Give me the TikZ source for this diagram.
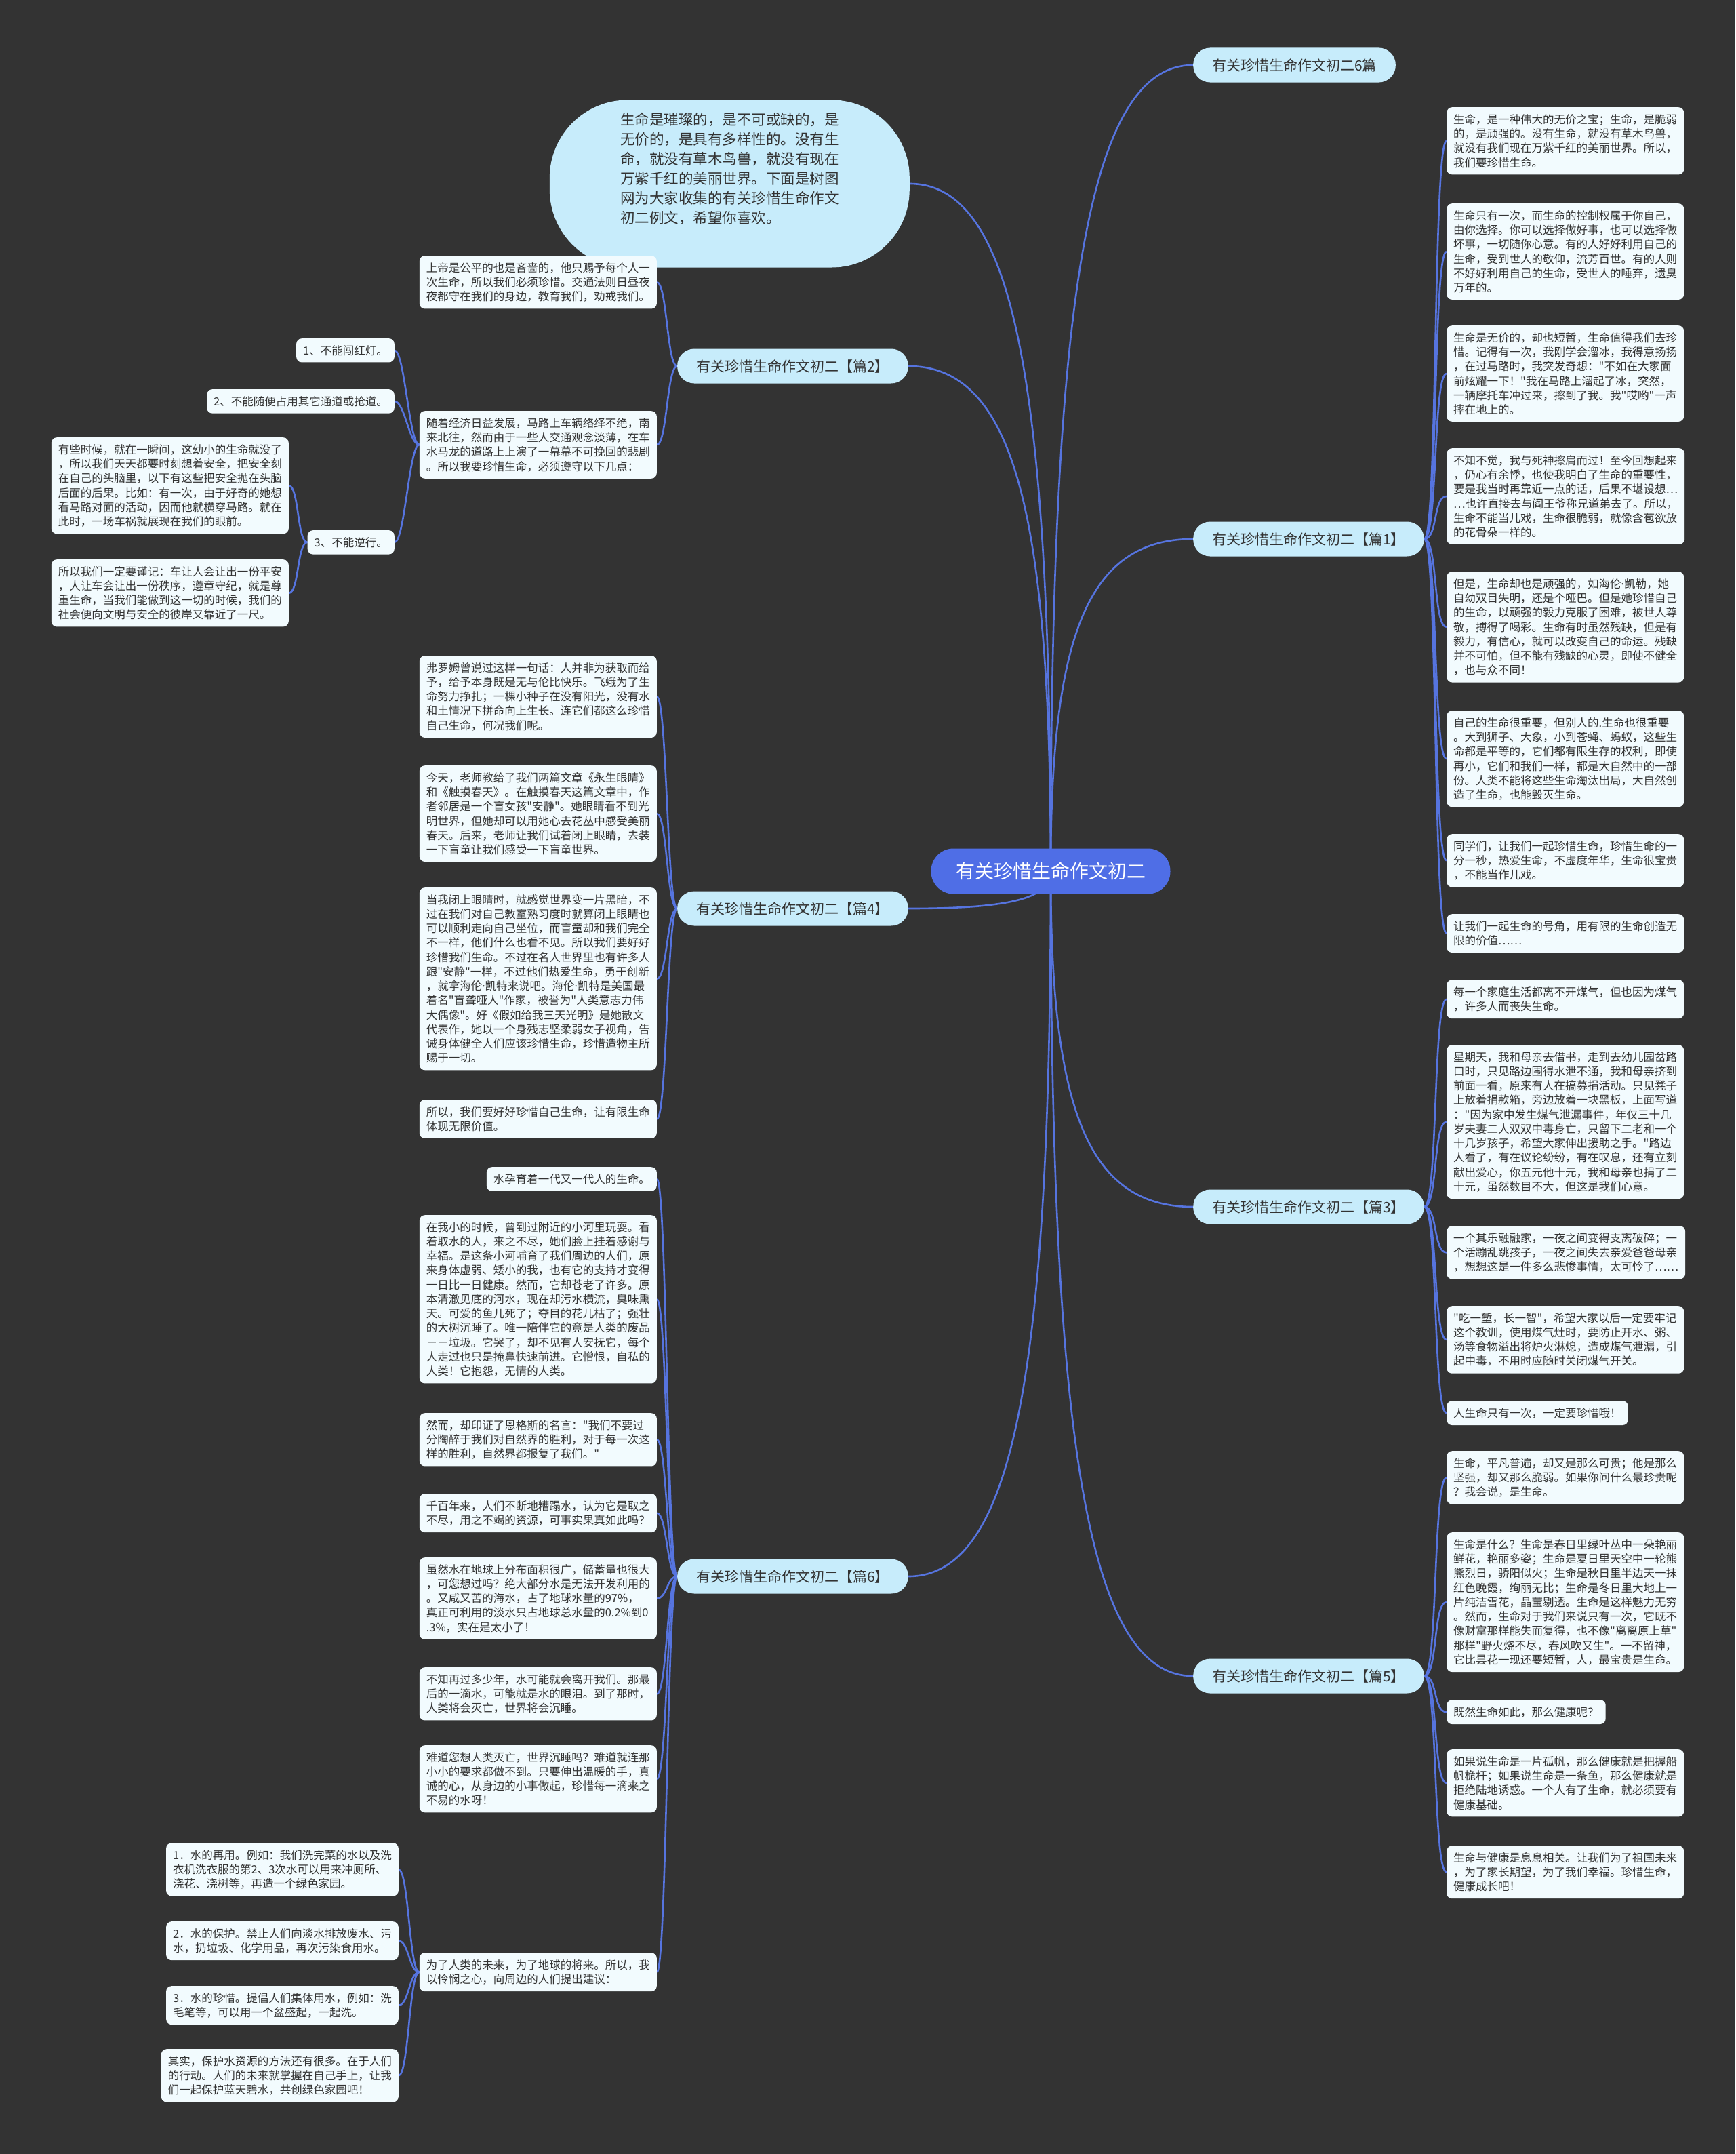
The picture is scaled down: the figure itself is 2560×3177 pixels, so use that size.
\documentclass[tikz,border=0pt]{standalone}
\usepackage{fontspec}
\setmainfont{Noto Sans CJK SC}[Ligatures=TeXOff]
\newfontfamily\latinf{Noto Sans}
\newcommand\md{{\latinf ·}}
\usetikzlibrary{calc}
\definecolor{bgc}{HTML}{333333}
\definecolor{leafc}{HTML}{F2FBFE}
\definecolor{brc}{HTML}{C7ECFB}
\definecolor{linec}{HTML}{5674DF}
\definecolor{centc}{HTML}{4F6EE6}
\definecolor{txtc}{HTML}{333333}
\newcommand\leaffont{\fontsize{16.5}{21.25}\selectfont}
\newcommand\brfont{\fontsize{21}{25}\selectfont}
\pgfdeclarelayer{bglayer}
\pgfdeclarelayer{links}
\pgfsetlayers{bglayer,links,main}
\tikzset{
  leaf/.style={fill=leafc, rounded corners=8pt, inner xsep=10pt, inner ysep=10pt, align=left, font=\leaffont, text=txtc},
  branch/.style={fill=brc, rounded corners=25pt, minimum height=51pt, inner xsep=28pt, font=\brfont, text=txtc},
  link/.style={draw=linec, line width=2.6pt},
}
\newcommand\rootlink[2]{\draw[link] (#1.center) .. controls ($(#1.center)!0.7!(#1.center|-#2)$) and ($(#2)!0.75!(#1.center|-#2)$) .. (#2);}
\newcommand\rlink[2]{\draw[link] (#1.east) .. controls +(20pt,0pt) and +(-20pt,0pt) .. (#2.west);}
\newcommand\llink[2]{\draw[link] (#1.west) .. controls +(-15pt,0pt) and +(15pt,0pt) .. (#2.east);}
\begin{document}
\begin{tikzpicture}[x=1pt,y=-1pt]
\begin{pgfonlayer}{bglayer}
\fill[bgc] (0,0) rectangle (2560,3177);
\end{pgfonlayer}
\useasboundingbox (0,0) rectangle (2560,3177);

% center
\node[fill=centc, text=white, rounded corners=33pt, minimum width=353pt, minimum height=67pt, font=\fontsize{28}{34}\selectfont] (C) at (1550,1285) {有关珍惜生命作文初二};

% intro
\node[fill=brc, rounded corners=115pt, minimum width=531pt, minimum height=247pt, align=left, font=\fontsize{21.5}{29}\selectfont, text=txtc, text depth=46pt, anchor=east] (I) at (1342,271) {生命是璀璨的，是不可或缺的，是\\无价的，是具有多样性的。没有生\\命，就没有草木鸟兽，就没有现在\\万紫千红的美丽世界。下面是树图\\网为大家收集的有关珍惜生命作文\\初二例文，希望你喜欢。};

% branches
\node[branch, anchor=west] (B0) at (1760,96) {有关珍惜生命作文初二6篇};
\node[branch, anchor=west] (B1) at (1760,795) {有关珍惜生命作文初二【篇1】};
\node[branch, anchor=west] (B3) at (1760,1780) {有关珍惜生命作文初二【篇3】};
\node[branch, anchor=west] (B5) at (1760,2472) {有关珍惜生命作文初二【篇5】};
\node[branch, anchor=east] (B2) at (1340,540) {有关珍惜生命作文初二【篇2】};
\node[branch, anchor=east] (B4) at (1340,1340) {有关珍惜生命作文初二【篇4】};
\node[branch, anchor=east] (B6) at (1340,2325) {有关珍惜生命作文初二【篇6】};

% ---------- 篇1 ----------
\node[leaf, anchor=north west] (R1a) at (2134,158) {生命，是一种伟大的无价之宝；生命，是脆弱\\的，是顽强的。没有生命，就没有草木鸟兽，\\就没有我们现在万紫千红的美丽世界。所以，\\我们要珍惜生命。};
\node[leaf, anchor=north west] (R1b) at (2134,300) {生命只有一次，而生命的控制权属于你自己，\\由你选择。你可以选择做好事，也可以选择做\\坏事，一切随你心意。有的人好好利用自己的\\生命，受到世人的敬仰，流芳百世。有的人则\\不好好利用自己的生命，受世人的唾弃，遗臭\\万年的。};
\node[leaf, anchor=north west] (R1c) at (2134,480) {生命是无价的，却也短暂，生命值得我们去珍\\惜。记得有一次，我刚学会溜冰，我得意扬扬\\，在过马路时，我突发奇想："不如在大家面\\前炫耀一下！"我在马路上溜起了冰，突然，\\一辆摩托车冲过来，擦到了我。我"哎哟"一声\\摔在地上的。};
\node[leaf, anchor=north west] (R1d) at (2134,661) {不知不觉，我与死神擦肩而过！至今回想起来\\，仍心有余悸，也使我明白了生命的重要性，\\要是我当时再靠近一点的话，后果不堪设想…\\…也许直接去与阎王爷称兄道弟去了。所以，\\生命不能当儿戏，生命很脆弱，就像含苞欲放\\的花骨朵一样的。};
\node[leaf, anchor=north west] (R1e) at (2134,843) {但是，生命却也是顽强的，如海伦\md 凯勒，她\\自幼双目失明，还是个哑巴。但是她珍惜自己\\的生命，以顽强的毅力克服了困难，被世人尊\\敬，搏得了喝彩。生命有时虽然残缺，但是有\\毅力，有信心，就可以改变自己的命运。残缺\\并不可怕，但不能有残缺的心灵，即使不健全\\，也与众不同！};
\node[leaf, anchor=north west] (R1f) at (2134,1048) {自己的生命很重要，但别人的.生命也很重要\\。大到狮子、大象，小到苍蝇、蚂蚁，这些生\\命都是平等的，它们都有限生存的权利，即使\\再小，它们和我们一样，都是大自然中的一部\\份。人类不能将这些生命淘汰出局，大自然创\\造了生命，也能毁灭生命。};
\node[leaf, anchor=north west] (R1g) at (2134,1230) {同学们，让我们一起珍惜生命，珍惜生命的一\\分一秒，热爱生命，不虚度年华，生命很宝贵\\，不能当作儿戏。};
\node[leaf, anchor=north west] (R1h) at (2134,1348) {让我们一起生命的号角，用有限的生命创造无\\限的价值……};

% ---------- 篇3 ----------
\node[leaf, anchor=north west] (R3a) at (2134,1445) {每一个家庭生活都离不开煤气，但也因为煤气\\，许多人而丧失生命。};
\node[leaf, anchor=north west] (R3b) at (2134,1541) {星期天，我和母亲去借书，走到去幼儿园岔路\\口时，只见路边围得水泄不通，我和母亲挤到\\前面一看，原来有人在搞募捐活动。只见凳子\\上放着捐款箱，旁边放着一块黑板，上面写道\\："因为家中发生煤气泄漏事件，年仅三十几\\岁夫妻二人双双中毒身亡，只留下二老和一个\\十几岁孩子，希望大家伸出援助之手。"路边\\人看了，有在议论纷纷，有在叹息，还有立刻\\献出爱心，你五元他十元，我和母亲也捐了二\\十元，虽然数目不大，但这是我们心意。};
\node[leaf, anchor=north west] (R3c) at (2134,1808) {一个其乐融融家，一夜之间变得支离破碎；一\\个活蹦乱跳孩子，一夜之间失去亲爱爸爸母亲\\，想想这是一件多么悲惨事情，太可怜了……};
\node[leaf, anchor=north west] (R3d) at (2134,1926) {"吃一堑，长一智"，希望大家以后一定要牢记\\这个教训，使用煤气灶时，要防止开水、粥、\\汤等食物溢出将炉火淋熄，造成煤气泄漏，引\\起中毒，不用时应随时关闭煤气开关。};
\node[leaf, anchor=north west] (R3e) at (2134,2066) {人生命只有一次，一定要珍惜哦！};

% ---------- 篇5 ----------
\node[leaf, anchor=north west] (R5a) at (2134,2140) {生命，平凡普遍，却又是那么可贵；他是那么\\坚强，却又那么脆弱。如果你问什么最珍贵呢\\？我会说，是生命。};
\node[leaf, anchor=north west] (R5b) at (2134,2260) {生命是什么？生命是春日里绿叶丛中一朵艳丽\\鲜花，艳丽多姿；生命是夏日里天空中一轮熊\\熊烈日，骄阳似火；生命是秋日里半边天一抹\\红色晚霞，绚丽无比；生命是冬日里大地上一\\片纯洁雪花，晶莹剔透。生命是这样魅力无穷\\。然而，生命对于我们来说只有一次，它既不\\像财富那样能失而复得，也不像"离离原上草"\\那样"野火烧不尽，春风吹又生"。一不留神，\\它比昙花一现还要短暂，人，最宝贵是生命。};
\node[leaf, anchor=north west] (R5c) at (2134,2507) {既然生命如此，那么健康呢？};
\node[leaf, anchor=north west] (R5d) at (2134,2580) {如果说生命是一片孤帆，那么健康就是把握船\\帆桅杆；如果说生命是一条鱼，那么健康就是\\拒绝陆地诱惑。一个人有了生命，就必须要有\\健康基础。};
\node[leaf, anchor=north west] (R5e) at (2134,2722) {生命与健康是息息相关。让我们为了祖国未来\\，为了家长期望，为了我们幸福。珍惜生命，\\健康成长吧！};

% ---------- 篇2 ----------
\node[leaf, anchor=north east] (L2a) at (969,377) {上帝是公平的也是吝啬的，他只赐予每个人一\\次生命，所以我们必须珍惜。交通法则日昼夜\\夜都守在我们的身边，教育我们，劝戒我们。};
\node[leaf, anchor=north east] (L2b) at (969,606) {随着经济日益发展，马路上车辆络绎不绝，南\\来北往，然而由于一些人交通观念淡薄，在车\\水马龙的道路上上演了一幕幕不可挽回的悲剧\\。所以我要珍惜生命，必须遵守以下几点：};
\node[leaf, anchor=north east] (S1) at (582,499) {1、不能闯红灯。};
\node[leaf, anchor=north east] (S2) at (582,574) {2、不能随便占用其它通道或抢道。};
\node[leaf, anchor=north east] (S3) at (582,782) {3、不能逆行。};
\node[leaf, anchor=north east] (SS1) at (426,645) {有些时候，就在一瞬间，这幼小的生命就没了\\，所以我们天天都要时刻想着安全，把安全刻\\在自己的头脑里，以下有这些把安全抛在头脑\\后面的后果。比如：有一次，由于好奇的她想\\看马路对面的活动，因而他就横穿马路。就在\\此时，一场车祸就展现在我们的眼前。};
\node[leaf, anchor=north east] (SS2) at (426,825) {所以我们一定要谨记：车让人会让出一份平安\\，人让车会让出一份秩序，遵章守纪，就是尊\\重生命，当我们能做到这一切的时候，我们的\\社会便向文明与安全的彼岸又靠近了一尺。};

% ---------- 篇4 ----------
\node[leaf, anchor=north east] (L4a) at (969,967) {弗罗姆曾说过这样一句话：人并非为获取而给\\予，给予本身既是无与伦比快乐。飞蛾为了生\\命努力挣扎；一棵小种子在没有阳光，没有水\\和土情况下拼命向上生长。连它们都这么珍惜\\自己生命，何况我们呢。};
\node[leaf, anchor=north east] (L4b) at (969,1129) {今天，老师教给了我们两篇文章《永生眼睛》\\和《触摸春天》。在触摸春天这篇文章中，作\\者邻居是一个盲女孩"安静"。她眼睛看不到光\\明世界，但她却可以用她心去花丛中感受美丽\\春天。后来，老师让我们试着闭上眼睛，去装\\一下盲童让我们感受一下盲童世界。};
\node[leaf, anchor=north east] (L4c) at (969,1309) {当我闭上眼睛时，就感觉世界变一片黑暗，不\\过在我们对自己教室熟习度时就算闭上眼睛也\\可以顺利走向自己坐位，而盲童却和我们完全\\不一样，他们什么也看不见。所以我们要好好\\珍惜我们生命。不过在名人世界里也有许多人\\跟"安静"一样，不过他们热爱生命，勇于创新\\，就拿海伦\md 凯特来说吧。海伦\md 凯特是美国最\\着名"盲聋哑人"作家，被誉为"人类意志力伟\\大偶像"。好《假如给我三天光明》是她散文\\代表作，她以一个身残志坚柔弱女子视角，告\\诫身体健全人们应该珍惜生命，珍惜造物主所\\赐于一切。};
\node[leaf, anchor=north east] (L4d) at (969,1622) {所以，我们要好好珍惜自己生命，让有限生命\\体现无限价值。};

% ---------- 篇6 ----------
\node[leaf, anchor=north east] (L6a) at (969,1721) {水孕育着一代又一代人的生命。};
\node[leaf, anchor=north east] (L6b) at (969,1792) {在我小的时候，曾到过附近的小河里玩耍。看\\着取水的人，来之不尽，她们脸上挂着感谢与\\幸福。是这条小河哺育了我们周边的人们，原\\来身体虚弱、矮小的我，也有它的支持才变得\\一日比一日健康。然而，它却苍老了许多。原\\本清澈见底的河水，现在却污水横流，臭味熏\\天。可爱的鱼儿死了；夺目的花儿枯了；强壮\\的大树沉睡了。唯一陪伴它的竟是人类的废品\\－－垃圾。它哭了，却不见有人安抚它，每个\\人走过也只是掩鼻快速前进。它憎恨，自私的\\人类！它抱怨，无情的人类。};
\node[leaf, anchor=north east] (L6c) at (969,2084) {然而，却印证了恩格斯的名言："我们不要过\\分陶醉于我们对自然界的胜利，对于每一次这\\样的胜利，自然界都报复了我们。"};
\node[leaf, anchor=north east] (L6d) at (969,2203) {千百年来，人们不断地糟蹋水，认为它是取之\\不尽，用之不竭的资源，可事实果真如此吗？};
\node[leaf, anchor=north east] (L6e) at (969,2297) {虽然水在地球上分布面积很广，储蓄量也很大\\，可您想过吗？绝大部分水是无法开发利用的\\。又咸又苦的海水，占了地球水量的97\%，\\真正可利用的淡水只占地球总水量的0.2\%到0\\.3\%，实在是太小了！};
\node[leaf, anchor=north east] (L6f) at (969,2459) {不知再过多少年，水可能就会离开我们。那最\\后的一滴水，可能就是水的眼泪。到了那时，\\人类将会灭亡，世界将会沉睡。};
\node[leaf, anchor=north east] (L6g) at (969,2574) {难道您想人类灭亡，世界沉睡吗？难道就连那\\小小的要求都做不到。只要伸出温暖的手，真\\诚的心，从身边的小事做起，珍惜每一滴来之\\不易的水呀！};
\node[leaf, anchor=north east] (L6h) at (969,2880) {为了人类的未来，为了地球的将来。所以，我\\以怜悯之心，向周边的人们提出建议：};
\node[leaf, anchor=north east] (W1) at (588,2718) {1．水的再用。例如：我们洗完菜的水以及洗\\衣机洗衣服的第2、3次水可以用来冲厕所、\\浇花、浇树等，再造一个绿色家园。};
\node[leaf, anchor=north east] (W2) at (588,2834) {2．水的保护。禁止人们向淡水排放废水、污\\水，扔垃圾、化学用品，再次污染食用水。};
\node[leaf, anchor=north east] (W3) at (588,2929) {3．水的珍惜。提倡人们集体用水，例如：洗\\毛笔等，可以用一个盆盛起，一起洗。};
\node[leaf, anchor=north east] (W4) at (588,3022) {其实，保护水资源的方法还有很多。在于人们\\的行动。人们的未来就掌握在自己手上，让我\\们一起保护蓝天碧水，共创绿色家园吧！};

% ---------- connectors ----------
\begin{pgfonlayer}{links}
\rootlink{C}{B0.west}
\rootlink{C}{B1.west}
\rootlink{C}{B3.west}
\rootlink{C}{B5.west}
\rootlink{C}{I.east}
\rootlink{C}{B2.east}
\rootlink{C}{B4.east}
\rootlink{C}{B6.east}
\foreach \n in {R1a,R1b,R1c,R1d,R1e,R1f,R1g,R1h} {\rlink{B1}{\n}}
\foreach \n in {R3a,R3b,R3c,R3d,R3e} {\rlink{B3}{\n}}
\foreach \n in {R5a,R5b,R5c,R5d,R5e} {\rlink{B5}{\n}}
\foreach \n in {L2a,L2b} {\llink{B2}{\n}}
\foreach \n in {S1,S2,S3} {\llink{L2b}{\n}}
\foreach \n in {SS1,SS2} {\llink{S3}{\n}}
\foreach \n in {L4a,L4b,L4c,L4d} {\llink{B4}{\n}}
\foreach \n in {L6a,L6b,L6c,L6d,L6e,L6f,L6g,L6h} {\llink{B6}{\n}}
\foreach \n in {W1,W2,W3,W4} {\llink{L6h}{\n}}
\end{pgfonlayer}
\end{tikzpicture}
\end{document}
